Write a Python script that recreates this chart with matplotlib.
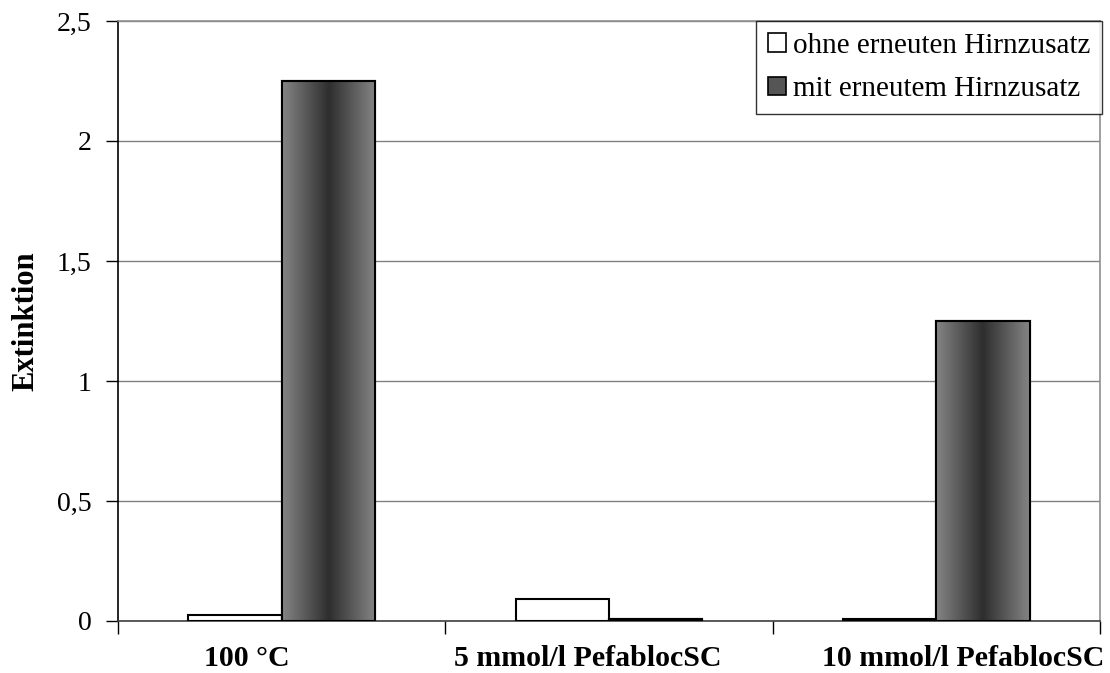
import numpy as np
import matplotlib
matplotlib.use("Agg")
import matplotlib.pyplot as plt
from matplotlib.patches import Rectangle, Patch
from matplotlib.colors import LinearSegmentedColormap
from matplotlib.transforms import ScaledTranslation

categories = ["100 °C", "5 mmol/l PefablocSC", "10 mmol/l PefablocSC"]
ohne = [0.027, 0.09, 0.008]
mit = [2.25, 0.01, 1.25]
series_names = ["ohne erneuten Hirnzusatz", "mit erneutem Hirnzusatz"]
yticks = [0, 0.5, 1, 1.5, 2, 2.5]
ytick_labels = ["0", "0,5", "1", "1,5", "2", "2,5"]

plt.rcParams['font.family'] = ['Liberation Serif', 'DejaVu Serif']

fig = plt.figure(figsize=(11.1, 6.73), dpi=100)
ax = fig.add_axes([118/1110, 1-621/673, (1100-118)/1110, (621-21)/673])

x = np.arange(len(categories))
w = 0.285
b1 = ax.bar(x - w/2, ohne, w, color="white", edgecolor="black", linewidth=1.5, zorder=3,
            label=series_names[0])
b2 = ax.bar(x + w/2, mit, w, color="#666666", edgecolor="black", linewidth=1.5, zorder=3,
            label=series_names[1])

grad_cmap = LinearSegmentedColormap.from_list("g", ["#858585", "#2e2e2e", "#858585"])
grad = np.linspace(0, 1, 256).reshape(1, -1)
for p in b2.patches:
    x0, y0 = p.get_x(), p.get_y()
    ww, hh = p.get_width(), p.get_height()
    im = ax.imshow(grad, cmap=grad_cmap, aspect="auto", extent=[x0, x0 + ww, y0, y0 + hh],
                   zorder=3.5, interpolation="bilinear")
    im.set_clip_path(p)
    ax.add_patch(Rectangle((x0, y0), ww, hh, fill=False, edgecolor="black", linewidth=1.5, zorder=4))

ax.set_xlim(-0.5, len(categories) - 0.5)
ax.set_ylim(0, 2.5)
ax.set_yticks(yticks)
ax.set_yticklabels(ytick_labels, fontsize=20)
ax.set_xticks(x)
ax.set_xticklabels(categories, fontsize=21.5, fontweight="bold")
ax.tick_params(axis="x", length=0, pad=17)
ax.set_xticks(np.arange(len(categories) + 1) - 0.5, minor=True)
ax.tick_params(axis="x", which="minor", length=9, width=1, color="black", direction="out")
ax.tick_params(axis="y", length=9, width=1, direction="out", pad=10)

# small horizontal offsets of the category labels (pixels) as in the original
label_shift_px = [-35, -21, 27]
for lbl, dx in zip(ax.get_xticklabels(), label_shift_px):
    lbl.set_transform(lbl.get_transform() + ScaledTranslation(dx / 100, 0, fig.dpi_scale_trans))

ax.yaxis.grid(True, color="#808080", linewidth=1, zorder=0)
ax.set_axisbelow(True)
ax.spines["left"].set_color("black")
ax.spines["bottom"].set_color("#404040")
ax.spines["top"].set_color("#909090")
ax.spines["right"].set_color("#909090")
for s in ax.spines.values():
    s.set_linewidth(1.2)

ax.set_ylabel("Extinktion", fontsize=22, fontweight="bold", labelpad=12)

h1 = Patch(facecolor="white", edgecolor="black", linewidth=1.2)
h2 = Patch(facecolor="#555555", edgecolor="black", linewidth=1.2)
leg = ax.legend([h1, h2], series_names, loc="upper right", bbox_to_anchor=(1.002, 1.0),
                fontsize=21, frameon=True, fancybox=False, edgecolor="black",
                handlelength=0.6, handleheight=0.6, handletextpad=0.25,
                labelspacing=0.6, borderpad=0.4, borderaxespad=0)
leg.get_frame().set_linewidth(1.0)

fig.savefig("out.png", dpi=100)
